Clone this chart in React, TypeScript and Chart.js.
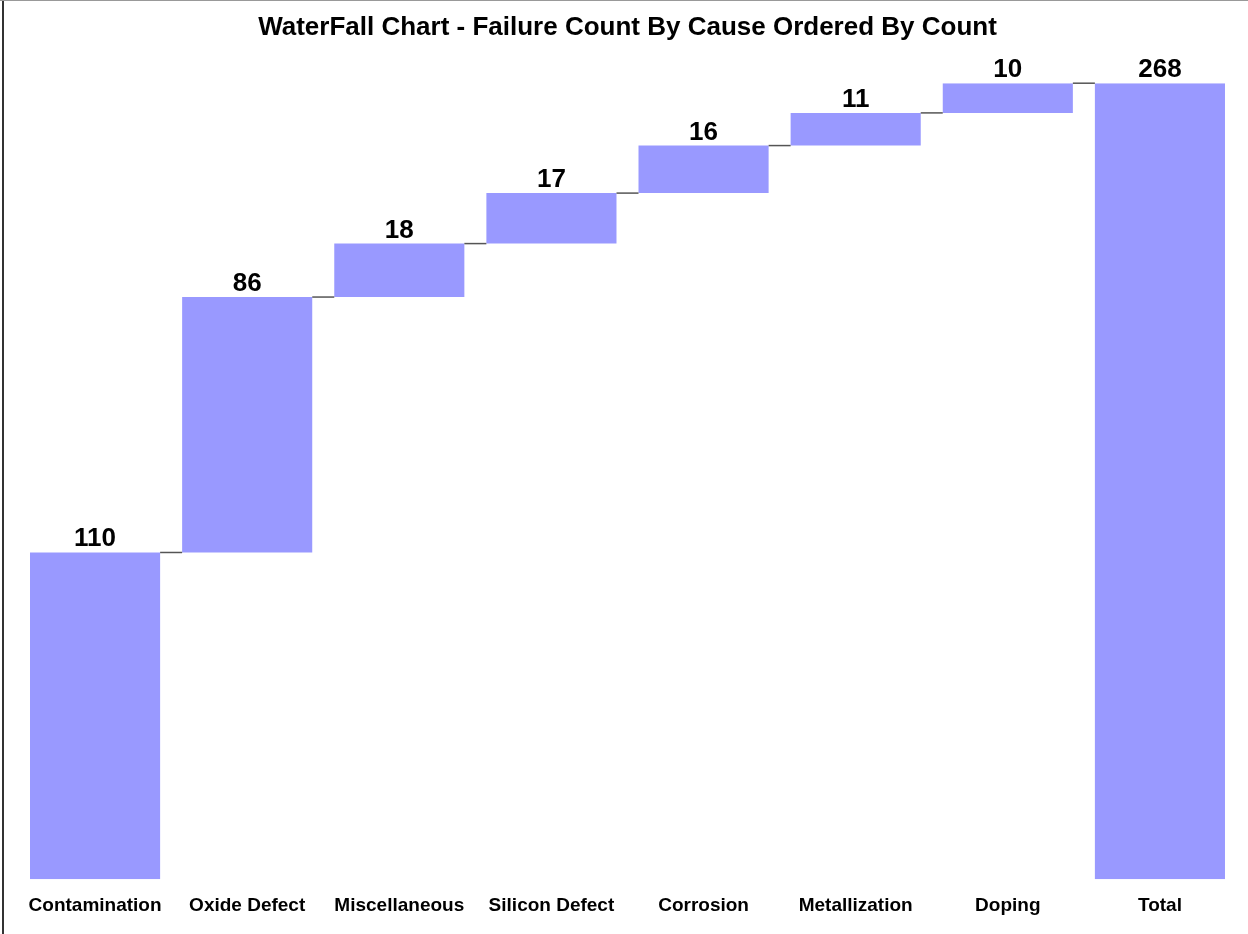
import React, { useEffect, useRef } from "react";
import { Chart, registerables } from "chart.js";

Chart.register(...registerables);

const categories = [
  "Contamination",
  "Oxide Defect",
  "Miscellaneous",
  "Silicon Defect",
  "Corrosion",
  "Metallization",
  "Doping",
];
const counts = [110, 86, 18, 17, 16, 11, 10];
const totalLabel = "Total";

const BAR_COLOR = "#9999FF";
const FONT = "'Liberation Sans', Arial, sans-serif";

export default function App() {
  const ref = useRef<HTMLCanvasElement | null>(null);

  useEffect(() => {
    if (!ref.current) return;
    const labels = [...categories, totalLabel];
    const ranges: [number, number][] = [];
    let run = 0;
    counts.forEach((c) => {
      ranges.push([run, run + c]);
      run += c;
    });
    const total = run;
    ranges.push([0, total]);
    const shown = [...counts, total];

    const waterfallPlugin = {
      id: "waterfallExtras",
      afterDatasetsDraw(chart: any) {
        const ctx = chart.ctx;
        const meta = chart.getDatasetMeta(0);
        const y = chart.scales.y;
        ctx.save();
        // connectors
        ctx.strokeStyle = "#555555";
        ctx.lineWidth = 1.5;
        for (let i = 0; i < meta.data.length - 1; i++) {
          const a = meta.data[i];
          const b = meta.data[i + 1];
          const level = y.getPixelForValue(ranges[i][1]);
          ctx.beginPath();
          ctx.moveTo(a.x + a.width / 2, level);
          ctx.lineTo(b.x - b.width / 2, level);
          ctx.stroke();
        }
        // value labels
        ctx.fillStyle = "#000";
        ctx.font = `bold 26px ${FONT}`;
        ctx.textAlign = "center";
        ctx.textBaseline = "alphabetic";
        meta.data.forEach((bar: any, i: number) => {
          const top = y.getPixelForValue(ranges[i][1]);
          ctx.fillText(String(shown[i]), bar.x, top - 6);
        });
        ctx.restore();
      },
    };

    const chart = new Chart(ref.current, {
      type: "bar",
      data: {
        labels,
        datasets: [
          {
            data: ranges as any,
            backgroundColor: BAR_COLOR,
            borderWidth: 0,
            categoryPercentage: 1,
            barPercentage: 130 / 152,
          },
        ],
      },
      options: {
        animation: false,
        responsive: false,
        layout: { padding: { left: 19, right: 12, top: 0, bottom: 2 } },
        plugins: {
          legend: { display: false },
          tooltip: { enabled: false },
          title: {
            display: true,
            text: "WaterFall Chart - Failure Count By Cause Ordered By Count",
            color: "#000",
            font: { family: FONT, size: 26, weight: "bold" },
            padding: { top: 12, bottom: 40 },
          },
        },
        scales: {
          x: {
            grid: { display: false, drawTicks: false },
            border: { display: false },
            ticks: {
              color: "#000",
              font: { family: FONT, size: 19, weight: "bold" },
              padding: 15,
              autoSkip: false,
              maxRotation: 0,
            },
          },
          y: {
            display: false,
            min: 0,
            max: 268,
          },
        },
      },
      plugins: [waterfallPlugin],
    });
    return () => chart.destroy();
  }, []);

  return (
    <div
      style={{
        position: "fixed",
        left: 0,
        top: 0,
        width: 1248,
        height: 934,
        background: "#fff",
      }}
    >
      <canvas ref={ref} width={1248} height={934} style={{ display: "block" }} />
      <div
        style={{
          position: "absolute",
          left: 2,
          top: 0,
          width: 2,
          height: 934,
          background: "#333",
        }}
      />
      <div
        style={{
          position: "absolute",
          left: 0,
          top: 0,
          width: 1248,
          height: 1,
          background: "#999",
        }}
      />
    </div>
  );
}
